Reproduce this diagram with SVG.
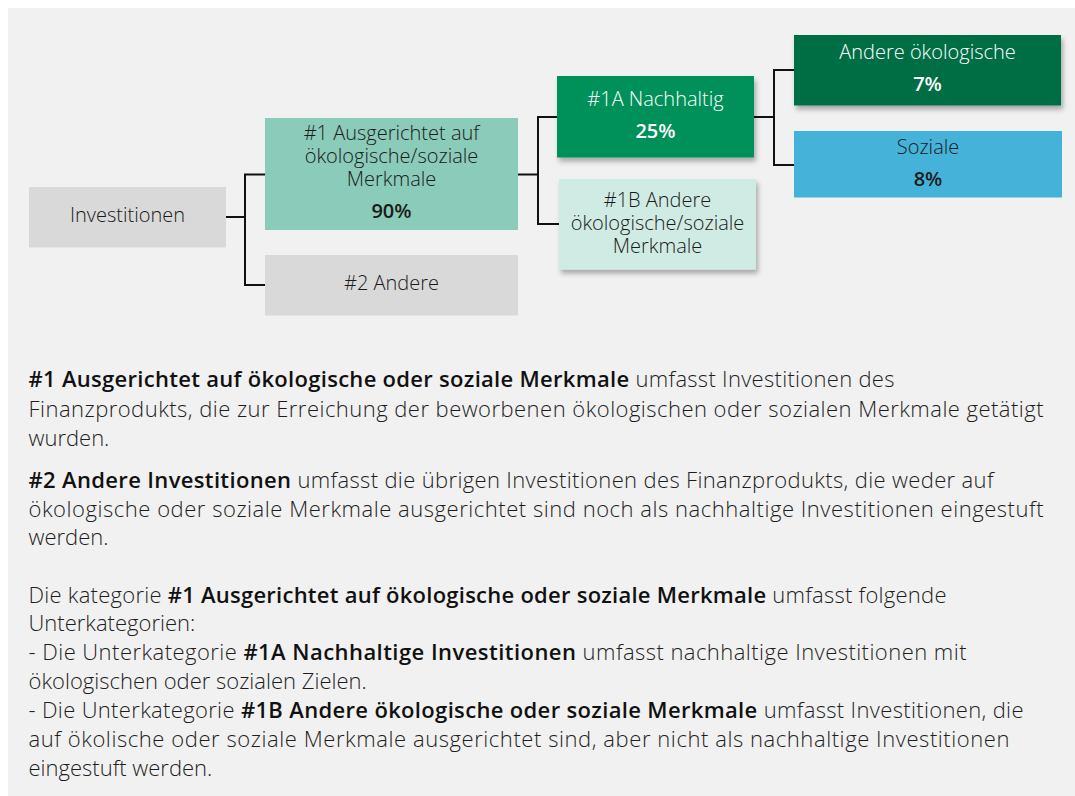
<svg xmlns="http://www.w3.org/2000/svg" width="1075" height="796" viewBox="0 0 1075 796">
<defs>
<filter id="sh" x="-10%" y="-20%" width="130%" height="160%">
<feDropShadow dx="2" dy="4" stdDeviation="2.5" flood-color="#000" flood-opacity="0.3"/>
</filter>
<style>
.t{font-family:"Open Sans","Liberation Sans",sans-serif;font-weight:300;font-size:20px;fill:#1a1a1a;text-anchor:middle}
.w{fill:#ffffff}
.p{font-weight:600}
.body{font-family:"Open Sans","Liberation Sans",sans-serif;font-weight:300;font-size:22px;fill:#1e1e1e}
.b{font-weight:600;fill:#111}
.c{fill:none;stroke:#111;stroke-width:2}
</style>
</defs>
<rect x="8" y="8" width="1067" height="788" fill="#f1f1f1"/>
<g id="connectors">
<path class="c" d="M226 217H245M245 174V285.5M244 174.5H265M244 285H265"/>
<path class="c" d="M518 174.5H538M538 116.5V224.5M537 117H557M537 224H559"/>
<path class="c" d="M754 117H774M774 69V165.5M773 70H794M773 165H794"/>
</g>
<g id="n-investitionen">
<rect x="29" y="187" width="197" height="60.5" fill="#d9d9d9"/>
<text class="t" x="127.5" y="222">Investitionen</text>
</g>
<g id="n-1">
<rect x="265" y="118" width="253" height="112" fill="#8acbb9"/>
<text class="t" x="391.5" y="140">#1 Ausgerichtet auf</text>
<text class="t" x="391.5" y="163">ökologische/soziale</text>
<text class="t" x="391.5" y="186">Merkmale</text>
<text class="t p" x="391.5" y="218">90%</text>
</g>
<g id="n-2">
<rect x="265" y="255" width="253" height="60.5" fill="#d9d9d9"/>
<text class="t" x="391.5" y="290">#2 Andere</text>
</g>
<g id="n-1a">
<rect x="557" y="76" width="197" height="81.5" fill="#00915a" filter="url(#sh)"/>
<text class="t w" x="655.5" y="106">#1A Nachhaltig</text>
<text class="t w p" x="655.5" y="137.5">25%</text>
</g>
<g id="n-1b">
<rect x="559" y="179" width="197" height="90.5" fill="#d0ebe3" filter="url(#sh)"/>
<text class="t" x="657.5" y="206.5">#1B Andere</text>
<text class="t" x="657.5" y="230">ökologische/soziale</text>
<text class="t" x="657.5" y="252.5">Merkmale</text>
</g>
<g id="n-andere-oeko">
<rect x="794" y="35" width="267" height="70.5" fill="#006e45" filter="url(#sh)"/>
<text class="t w" x="927.5" y="59">Andere ökologische</text>
<text class="t w p" x="927.5" y="91">7%</text>
</g>
<g id="n-soziale">
<rect x="794" y="131" width="268" height="66.5" fill="#45b3d9"/>
<text class="t" x="928" y="153.5">Soziale</text>
<text class="t p" x="928" y="185.5">8%</text>
</g>
<g id="legend">
<text class="body" x="28.5" y="387" textLength="866" lengthAdjust="spacing"><tspan class="b">#1 Ausgerichtet auf ökologische oder soziale Merkmale</tspan> umfasst Investitionen des</text>
<text class="body" x="28.5" y="416.5" textLength="1015" lengthAdjust="spacing">Finanzprodukts, die zur Erreichung der beworbenen ökologischen oder sozialen Merkmale getätigt</text>
<text class="body" x="28.5" y="446">wurden.</text>
<text class="body" x="28.5" y="488" textLength="965" lengthAdjust="spacing"><tspan class="b">#2 Andere Investitionen</tspan> umfasst die übrigen Investitionen des Finanzprodukts, die weder auf</text>
<text class="body" x="28.5" y="516.5" textLength="1015" lengthAdjust="spacing">ökologische oder soziale Merkmale ausgerichtet sind noch als nachhaltige Investitionen eingestuft</text>
<text class="body" x="28.5" y="545">werden.</text>
<text class="body" x="28.5" y="603" textLength="918" lengthAdjust="spacing">Die kategorie <tspan class="b">#1 Ausgerichtet auf ökologische oder soziale Merkmale</tspan> umfasst folgende</text>
<text class="body" x="28.5" y="631">Unterkategorien:</text>
<text class="body" x="28.5" y="660" textLength="938" lengthAdjust="spacing">- Die Unterkategorie <tspan class="b">#1A Nachhaltige Investitionen</tspan> umfasst nachhaltige Investitionen mit</text>
<text class="body" x="28.5" y="689">ökologischen oder sozialen Zielen.</text>
<text class="body" x="28.5" y="718" textLength="995" lengthAdjust="spacing">- Die Unterkategorie <tspan class="b">#1B Andere ökologische oder soziale Merkmale</tspan> umfasst Investitionen, die</text>
<text class="body" x="28.5" y="747" textLength="981" lengthAdjust="spacing">auf ökolische oder soziale Merkmale ausgerichtet sind, aber nicht als nachhaltige Investitionen</text>
<text class="body" x="28.5" y="776">eingestuft werden.</text>
</g>
</svg>
